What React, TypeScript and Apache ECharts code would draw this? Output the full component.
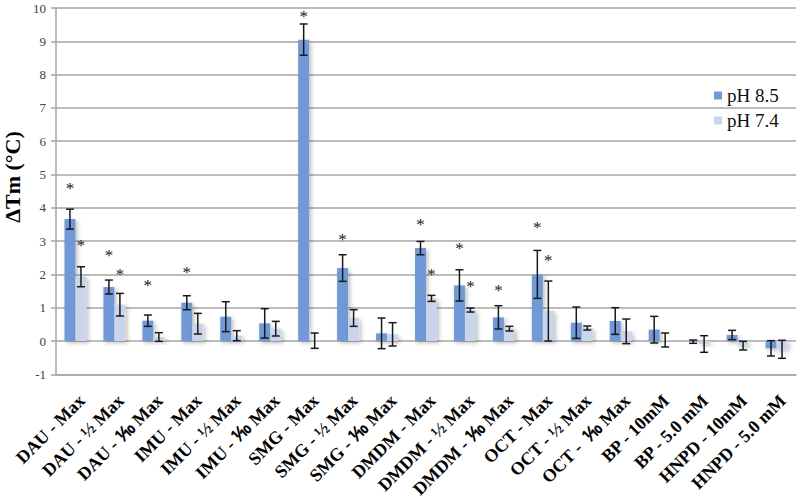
import React, { useEffect, useRef } from "react";
import * as echarts from "echarts";

const categories = [
  "DAU - Max", "DAU - ½ Max", "DAU - ⅒ Max",
  "IMU - Max", "IMU - ½ Max", "IMU - ⅒ Max",
  "SMG - Max", "SMG - ½ Max", "SMG - ⅒ Max",
  "DMDM - Max", "DMDM - ½ Max", "DMDM - ⅒ Max",
  "OCT - Max", "OCT - ½ Max", "OCT -  ⅒ Max",
  "BP - 10mM", "BP - 5.0 mM", "HNPD - 10mM", "HNPD - 5.0 mM",
];
const ph85 = [3.66, 1.62, 0.61, 1.15, 0.73, 0.53, 9.05, 2.19, 0.23, 2.79, 1.67, 0.71, 2.0, 0.55, 0.6, 0.34, -0.02, 0.18, -0.22];
const ph85Err = [0.3, 0.21, 0.17, 0.21, 0.45, 0.44, 0.47, 0.4, 0.46, 0.2, 0.47, 0.35, 0.72, 0.47, 0.4, 0.4, 0.05, 0.14, 0.23];
const ph74 = [1.93, 1.09, 0.12, 0.52, 0.16, 0.37, 0.01, 0.69, 0.2, 1.28, 0.93, 0.37, 0.9, 0.39, 0.29, 0.03, -0.09, -0.14, -0.25];
const ph74Err = [0.3, 0.34, 0.13, 0.31, 0.15, 0.22, 0.23, 0.25, 0.35, 0.09, 0.06, 0.07, 0.9, 0.06, 0.37, 0.21, 0.25, 0.13, 0.27];
const star85: (number | null)[] = [4.68, 2.67, 1.75, 2.15, null, null, 9.82, 3.14, null, 3.6, 2.86, 1.6, 3.5, null, null, null, null, null, null];
const star74: (number | null)[] = [2.97, 2.08, null, null, null, null, null, null, null, 2.08, 1.73, null, 2.52, null, null, null, null, null, null];
const yTicks = { min: -1, max: 10, interval: 1 };

const BLUE = "#7099d6";
const LIGHT = "#c8d5ea";
const SERIF = "Liberation Serif";
const HALF = 5.5;

const errRender = (offset: number) => (params: any, api: any) => {
  const i = api.value(0);
  const v = api.value(1);
  const e = api.value(2);
  const top = api.coord([i, v + e]);
  const bot = api.coord([i, v - e]);
  const x = top[0] + offset;
  const st = { stroke: "#1a1a1a", lineWidth: 1.5 };
  return {
    type: "group",
    children: [
      { type: "line", shape: { x1: x, y1: top[1], x2: x, y2: bot[1] }, style: st },
      { type: "line", shape: { x1: x - 4, y1: top[1], x2: x + 4, y2: top[1] }, style: st },
      { type: "line", shape: { x1: x - 4, y1: bot[1], x2: x + 4, y2: bot[1] }, style: st },
    ],
  };
};

const starRender = (offset: number) => (params: any, api: any) => {
  const p = api.coord([api.value(0), api.value(1)]);
  return {
    type: "text",
    x: p[0] + offset,
    y: p[1] + 3,
    style: {
      text: "*",
      textAlign: "center",
      textVerticalAlign: "middle",
      fontFamily: SERIF,
      fontSize: 17,
      fill: "#222",
    },
  };
};

const toStarData = (arr: (number | null)[]) =>
  arr.map((v, i) => (v == null ? null : [i, v])).filter((d) => d !== null);

export default function App() {
  const ref = useRef<HTMLDivElement>(null);
  useEffect(() => {
    if (!ref.current) return;
    const chart = echarts.init(ref.current, undefined, { renderer: "svg" });
    const shadow = {
      shadowBlur: 4,
      shadowOffsetX: 2,
      shadowOffsetY: 2,
      shadowColor: "rgba(0,0,0,0.25)",
    };
    chart.setOption({
      animation: false,
      backgroundColor: "#fff",
      grid: {
        left: 56,
        right: 1,
        top: 8,
        bottom: 124.7,
        containLabel: false,
        outerBoundsMode: "none",
      },
      legend: {
        data: ["pH 8.5", "pH 7.4"],
        orient: "vertical",
        left: 709,
        top: 81,
        itemWidth: 8,
        itemHeight: 8,
        itemGap: 6,
        icon: "rect",
        textStyle: { fontFamily: SERIF, fontSize: 19, color: "#111" },
      },
      graphic: [
        {
          type: "text",
          x: 12,
          y: 177,
          rotation: Math.PI / 2,
          style: {
            text: "ΔTm (°C)",
            fontFamily: SERIF,
            fontWeight: "bold",
            fontSize: 22,
            textAlign: "center",
            textVerticalAlign: "middle",
            fill: "#000",
          },
        },
      ],
      xAxis: {
        type: "category",
        data: categories,
        axisLine: { onZero: false, lineStyle: { color: "#a6a6a6", width: 1.5 } },
        axisTick: { show: false },
        axisLabel: {
          interval: 0,
          rotate: 45,
          margin: 17,
          verticalAlign: "top",
          fontFamily: SERIF,
          fontWeight: "bold",
          fontSize: 18,
          color: "#000",
        },
      },
      yAxis: {
        type: "value",
        min: yTicks.min,
        max: yTicks.max,
        interval: yTicks.interval,
        axisLine: { show: true, lineStyle: { color: "#a6a6a6", width: 1.5 } },
        axisTick: { show: true, length: 5, lineStyle: { color: "#a6a6a6", width: 1.5 } },
        splitLine: { lineStyle: { color: "#a6a6a6", width: 1.5 } },
        axisLabel: {
          fontFamily: SERIF,
          fontSize: 13,
          lineHeight: 11,
          color: "#404040",
          margin: 10,
        },
      },
      series: [
        {
          name: "pH 8.5",
          type: "bar",
          data: ph85,
          barWidth: 11,
          barGap: "0%",
          itemStyle: { color: BLUE, ...shadow },
        },
        {
          name: "pH 7.4",
          type: "bar",
          data: ph74,
          barWidth: 11,
          barGap: "0%",
          itemStyle: { color: LIGHT, ...shadow },
        },
        {
          type: "custom",
          renderItem: errRender(-HALF),
          data: ph85.map((v, i) => [i, v, ph85Err[i]]),
          encode: { x: 0, y: 1 },
          z: 5,
        },
        {
          type: "custom",
          renderItem: errRender(HALF),
          data: ph74.map((v, i) => [i, v, ph74Err[i]]),
          encode: { x: 0, y: 1 },
          z: 5,
        },
        {
          type: "custom",
          renderItem: starRender(-HALF),
          data: toStarData(star85),
          encode: { x: 0, y: 1 },
          z: 5,
        },
        {
          type: "custom",
          renderItem: starRender(HALF),
          data: toStarData(star74),
          encode: { x: 0, y: 1 },
          z: 5,
        },
      ],
    });
    return () => chart.dispose();
  }, []);
  return (
    <div
      ref={ref}
      style={{ position: "absolute", left: 0, top: 0, width: 797, height: 499 }}
    />
  );
}
